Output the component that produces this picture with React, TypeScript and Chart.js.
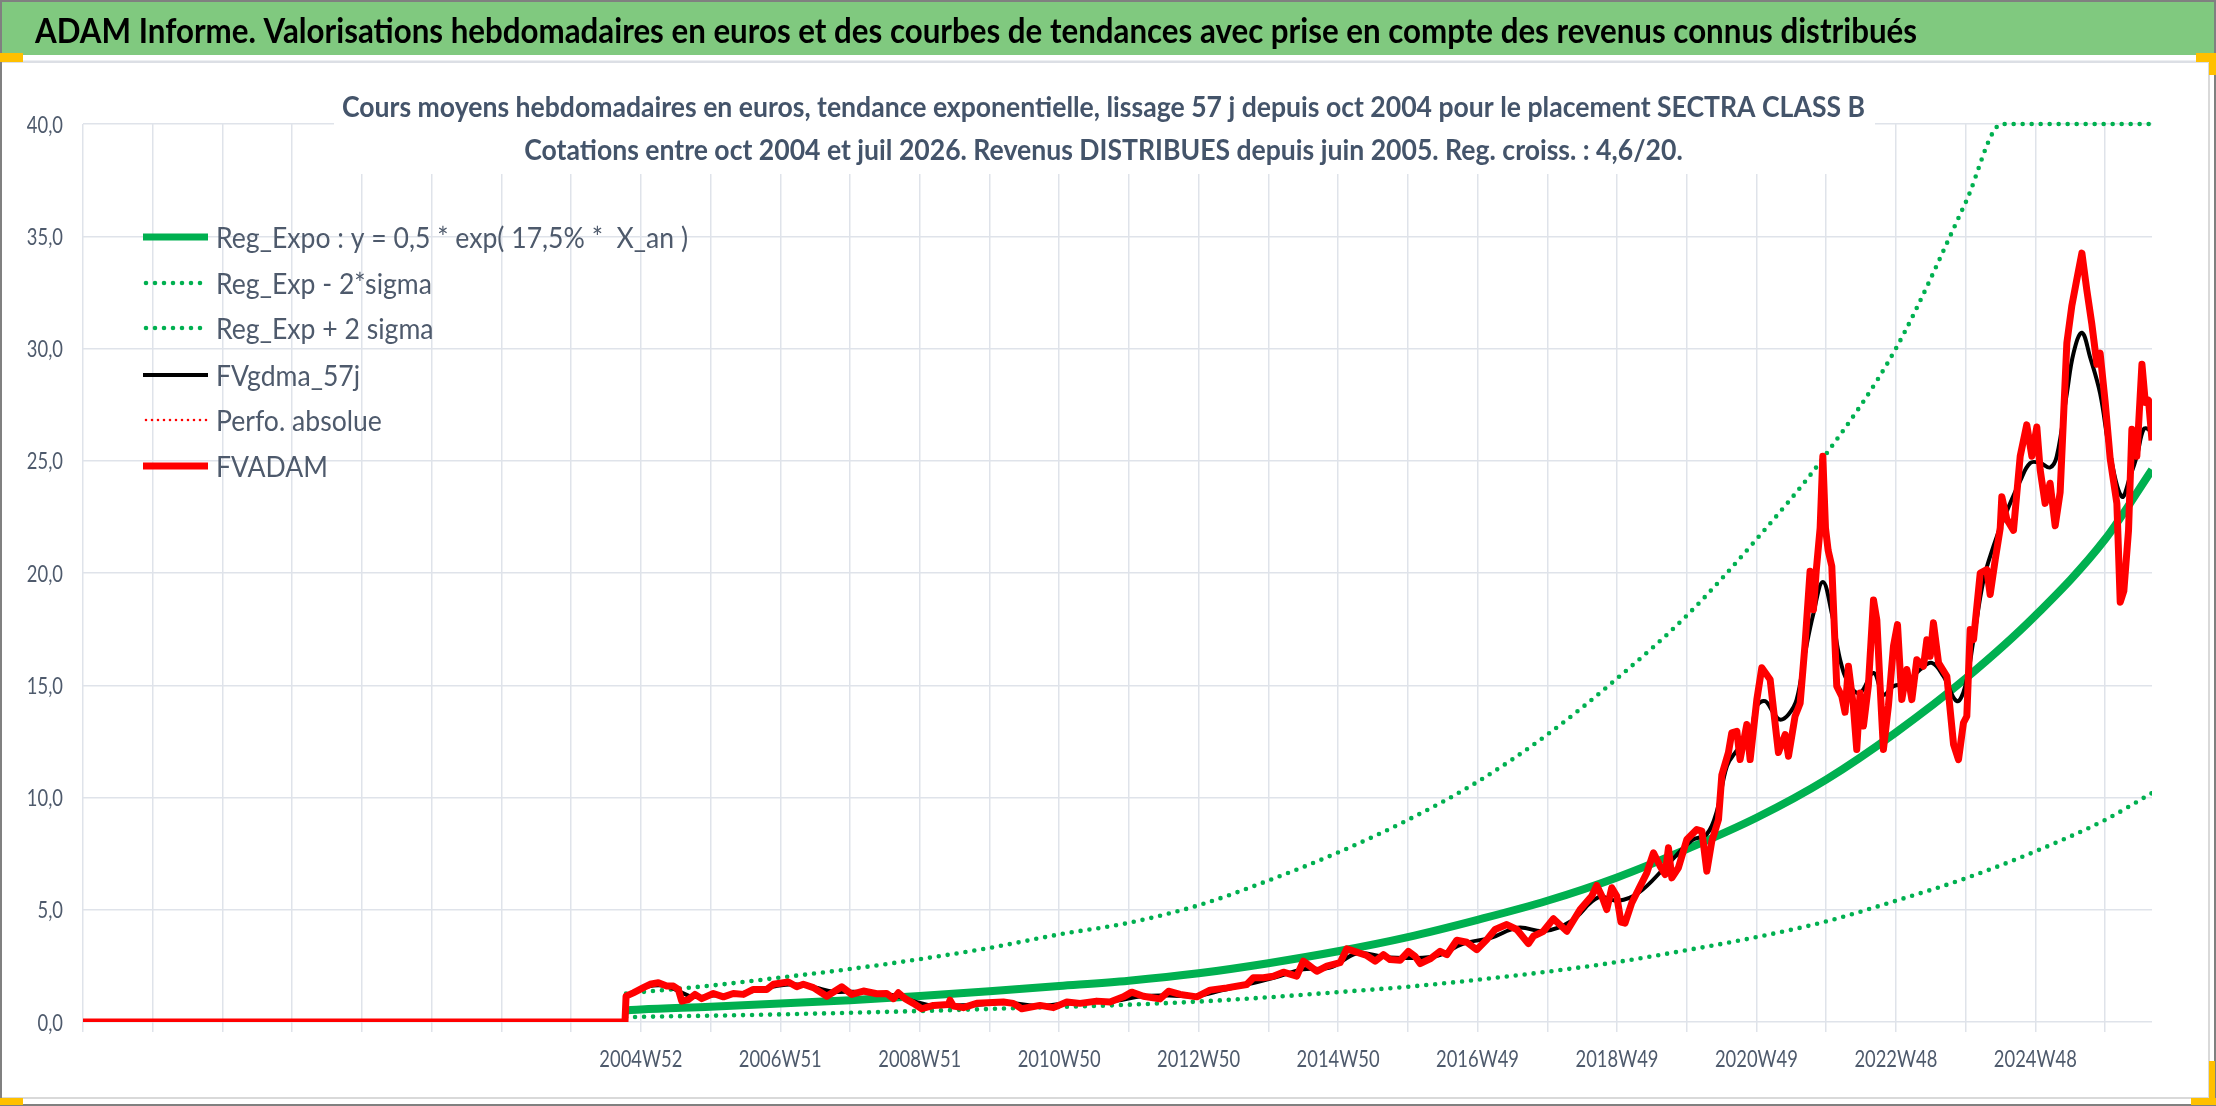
import React, { useEffect, useRef } from "react";
import { Chart, registerables } from "chart.js";

Chart.register(...registerables);

const PAGE_W = 2216;
const PAGE_H = 1106;

const titleText =
  "ADAM Informe. Valorisations hebdomadaires en euros et des courbes de tendances avec prise en compte des revenus connus distribués";
const subtitleLines = [
  "Cours moyens hebdomadaires en euros, tendance exponentielle, lissage 57 j depuis oct 2004 pour le placement SECTRA CLASS B",
  "Cotations entre oct 2004 et juil 2026. Revenus DISTRIBUES depuis juin 2005. Reg. croiss. : 4,6/20.",
];

// x axis: week index since the first gridline; one gridline every 52 weeks
const gridWeeks = [
  0, 52, 104, 156, 208, 260, 312, 364, 416, 468, 520, 572, 624, 676, 728, 780,
  832, 884, 936, 988, 1040, 1092, 1144, 1196, 1248, 1300, 1352, 1404, 1456, 1508,
];
const xTickLabels = [
  "", "", "", "", "", "", "", "", "2004W52", "", "2006W51", "", "2008W51", "",
  "2010W50", "", "2012W50", "", "2014W50", "", "2016W49", "", "2018W49", "",
  "2020W49", "", "2022W48", "", "2024W48", "",
];
const yTickLabels = ["0,0", "5,0", "10,0", "15,0", "20,0", "25,0", "30,0", "35,0", "40,0"];

const legendLabels = [
  "Reg_Expo : y = 0,5 * exp( 17,5% *  X_an )",
  "Reg_Exp - 2*sigma",
  "Reg_Exp + 2 sigma",
  "FVgdma_57j",
  "Perfo. absolue",
  "FVADAM",
];

// exponential regression and ±2 sigma bands
const regWeeks = [
  405, 416, 468, 520, 572, 624, 676, 728, 780, 832, 884, 936, 988, 1040, 1092,
  1144, 1196, 1248, 1300, 1352, 1404, 1456, 1508, 1543,
];
const regValues = [
  0.52, 0.56, 0.68, 0.82, 0.97, 1.16, 1.37, 1.6, 1.84, 2.17, 2.62, 3.15, 3.78,
  4.55, 5.4, 6.44, 7.7, 9.1, 10.8, 12.9, 15.3, 18.1, 21.5, 24.6,
];
const lowValues = [
  0.21, 0.23, 0.28, 0.34, 0.41, 0.49, 0.58, 0.67, 0.77, 0.91, 1.1, 1.33, 1.57,
  1.88, 2.24, 2.67, 3.2, 3.78, 4.48, 5.4, 6.4, 7.6, 9.0, 10.2,
];
const highWeeks = [
  405, 416, 468, 520, 572, 624, 676, 728, 780, 832, 884, 936, 988, 1040, 1092,
  1144, 1196, 1248, 1300, 1352, 1404, 1431, 1456, 1508, 1543,
];
const highValues = [
  1.27, 1.33, 1.62, 1.98, 2.36, 2.8, 3.3, 3.9, 4.42, 5.2, 6.3, 7.55, 9.0, 10.7,
  12.8, 15.3, 18.1, 21.5, 25.3, 30.0, 36.5, 40, 40, 40, 40,
];

// FVADAM weekly valuation
const adamWeeks = [
  0, 404.2, 405, 410.4, 417.9, 422.9, 429.1, 435.3, 440.3, 444, 446.5, 451.5,
  456.4, 461.4, 470.1, 477.6, 485, 492.5, 499.9, 509.9, 514.9, 526, 532.3,
  537.2, 544.7, 554.7, 565.9, 573.3, 582, 592, 599.4, 604.4, 608.1, 613.1,
  619.3, 625.5, 634.2, 645.4, 646.6, 649.1, 656.5, 666.5, 686.4, 693.8, 700.1,
  713.7, 723.7, 733.7, 743.6, 756, 765.9,
  775.9, 782.1, 790.8, 803.2, 809.5, 818.2, 830.6, 840.5, 853,
  867.9, 872.8, 880.3, 887.7, 895.2, 905.2, 910.1, 920.1, 927.6, 937.5, 942.5,
  949.9, 957.4, 963.6, 969.8, 974.8, 982.2, 988.4, 993.4, 997.2, 1004.6,
  1012.1, 1017.1, 1024.5, 1032, 1039.4, 1046.9, 1053.1, 1061.8, 1069.3,
  1077.9, 1081.7, 1089.1, 1096.6, 1106.6, 1116.5, 1125.2, 1128.9, 1132.7,
  1136.4, 1140.1, 1143.8, 1147, 1150, 1155, 1161.3, 1166.3, 1171.2, 1176.2,
  1179.9, 1182.4, 1184.9, 1189.8, 1196.1, 1203.5, 1207.3, 1211, 1214.7,
  1219.7, 1222.2, 1227.1, 1229.6, 1233.4, 1235.8, 1240.8, 1243.3, 1248.3,
  1252, 1258.2, 1264.4, 1269.4, 1271.9, 1276.8, 1280.6, 1284.3, 1288, 1290.5,
  1292.6, 1295.5, 1297.5, 1299.5, 1301.5, 1304.2, 1307.9, 1311.7, 1314.1,
  1316.6, 1320.3, 1322.8, 1325.3, 1327.8, 1331.5, 1335.3, 1337.8, 1340.2,
  1342.7, 1346.4, 1350.2, 1353.2, 1356.4, 1360.2, 1363.9, 1367.6, 1372.6,
  1375.1, 1377.6, 1380, 1383.8, 1390, 1395, 1398.7, 1402.4, 1404.9, 1407.4,
  1409.9, 1414.9, 1419.8, 1422.3, 1426.1, 1429.8, 1431, 1434.7, 1439.7,
  1444.7, 1449.6, 1453.4, 1457.1, 1459.6, 1463.3, 1467, 1470.8, 1474.5,
  1479.5, 1483.2, 1487, 1490.7, 1494.4, 1498.1, 1501.9, 1504.3, 1508.1,
  1511.8, 1516.8, 1519.3, 1522, 1525.5, 1528, 1531.7, 1535.5, 1538, 1540.4,
  1543,
];
const adamValues = [
  0, 0, 1.15, 1.3, 1.53, 1.68, 1.75, 1.6, 1.6, 1.45, 0.93, 1.0, 1.23, 1.04,
  1.27, 1.12, 1.27, 1.23, 1.45, 1.45, 1.68, 1.78, 1.57, 1.68, 1.53, 1.15,
  1.57, 1.23, 1.38, 1.26, 1.27, 1.04, 1.3, 1.04, 0.83, 0.59, 0.74, 0.78, 0.97,
  0.71, 0.64, 0.83, 0.89, 0.83, 0.59, 0.74, 0.64, 0.89, 0.83, 0.93, 0.89,
  1.12, 1.33, 1.15, 1.03, 1.37, 1.23, 1.12, 1.42, 1.52, 1.67, 1.97,
  1.97, 2.04, 2.22, 2.04, 2.71, 2.26, 2.49, 2.64, 3.26, 3.11, 2.96, 2.71, 3.0,
  2.78, 2.75, 3.15, 2.93, 2.6, 2.81, 3.15, 3.0, 3.64, 3.55, 3.22, 3.67, 4.12,
  4.34, 4.12, 3.49, 3.82, 4.04, 4.6, 4.04, 5.01, 5.61, 6.08, 5.61, 5.01, 5.98,
  5.61, 4.45, 4.4, 5.3, 6.05, 6.65, 7.54, 6.94, 6.57, 7.76, 6.42, 6.87, 8.13,
  8.57, 8.5, 6.72, 8.05, 9.02, 11.0, 12.0, 12.88, 12.95, 11.69, 13.25, 11.69,
  14.36, 15.78, 15.26, 12.0, 12.8, 11.84, 13.62, 14.2, 16.87, 20.08, 18.36,
  20.1, 22.0, 25.2, 22.0, 21.0, 20.3, 14.96, 14.5, 13.8, 15.85, 14.07, 12.14,
  14.66, 13.18, 15.0, 18.8, 17.9, 15.0, 12.14, 14.07, 16.74, 17.7, 14.36,
  15.7, 14.36, 16.14, 15.85, 17.03, 16.29, 17.78, 16.0, 15.4, 12.37, 11.69,
  13.33, 13.62, 17.48, 17.03, 20.0, 20.15, 19.04, 20.6, 22.0, 23.4, 22.4,
  21.9, 25.2, 26.6, 25.2, 26.5, 24.6, 23.1, 24.0, 22.1, 23.6, 30.25, 31.9,
  33.1, 34.25, 32.6, 31.1, 29.3, 29.8, 27.6, 25.1, 23.1, 18.7, 19.2, 21.9,
  26.4, 25.2, 29.3, 27.6, 27.7, 25.9,
];

// FVgdma_57j smoothed valuation
const smoothWeeks = [
  405, 415, 425, 435, 445, 455, 470, 485, 500, 515, 530, 545, 560, 575, 590,
  605, 620, 635, 650, 670, 690, 710, 730, 750, 770, 790, 810, 830, 850, 870,
  890, 910, 930, 950, 970, 990, 1010, 1030, 1050, 1070, 1090, 1110, 1130,
  1145, 1160, 1180, 1200, 1211, 1218.5, 1226, 1233.4, 1243.3, 1248.3, 1254.5,
  1260.7, 1265.6, 1271.9, 1278, 1284.3, 1290.5, 1297.5, 1304.2, 1310.4,
  1317.8, 1325.3, 1335.3, 1342.7, 1350.2, 1360.2, 1370.1, 1378.8, 1387.5,
  1397.5, 1403.7, 1409.9, 1417.4, 1424.8, 1432.3, 1444.7, 1452.2, 1459.6,
  1467, 1472, 1479.5, 1484.5, 1490.7, 1496.9, 1504.3, 1511.8, 1520.5, 1526.7,
  1531.7, 1536.7, 1540.4, 1543,
];
const smoothValues = [
  1.15, 1.45, 1.62, 1.6, 1.35, 1.12, 1.18, 1.22, 1.38, 1.58, 1.68, 1.55, 1.35,
  1.35, 1.3, 1.18, 0.92, 0.72, 0.74, 0.78, 0.86, 0.72, 0.8, 0.88, 0.95, 1.15,
  1.18, 1.15, 1.42, 1.7, 2.0, 2.35, 2.42, 3.05, 2.9, 2.85, 2.95, 3.5, 3.75,
  4.2, 4.05, 4.5, 5.55, 5.4, 5.75, 6.9, 8.1, 8.37, 9.4, 11.4, 12.1, 12.88,
  14.07, 14.29, 13.77, 13.47, 13.7, 14.36, 16.44, 18.2, 19.6, 18.2, 16.14,
  14.96, 14.66, 15.55, 14.59, 14.96, 15.1, 15.7, 16.0, 15.4, 14.29, 14.96,
  17.03, 19.7, 21.2, 22.4, 24.1, 24.9, 24.9, 24.7, 25.2, 28.0, 29.8, 30.7,
  29.6, 28.0, 25.3, 23.4, 24.3, 25.2, 26.4, 26.4, 26.1,
];

const GREEN = "#00b050";
const RED = "#ff0000";
const GRID = "#dfe3ea";
const TEXT = "#4e5a6c";

function pts(xs: number[], ys: number[]) {
  return xs.map((x, i) => ({ x, y: ys[i] }));
}

function drawText(
  ctx: CanvasRenderingContext2D,
  text: string,
  x: number,
  y: number,
  font: string,
  color: string,
  align: CanvasTextAlign,
  sx: number
) {
  ctx.save();
  ctx.font = font;
  ctx.fillStyle = color;
  ctx.textAlign = align;
  ctx.textBaseline = "alphabetic";
  ctx.translate(x, y);
  ctx.scale(sx, 1);
  ctx.fillText(text, 0, 0);
  ctx.restore();
}

function textWidth(ctx: CanvasRenderingContext2D, text: string, font: string) {
  ctx.save();
  ctx.font = font;
  const w = ctx.measureText(text).width;
  ctx.restore();
  return w;
}

const FONT_TITLE = "bold 35px Lato";
const FONT_SUB = "bold 29px Lato";
const FONT_TICK = "24px Lato";
const FONT_LEGEND = "29px Lato";

const decorPlugin = {
  id: "decor",
  beforeDraw(chart: any) {
    const ctx: CanvasRenderingContext2D = chart.ctx;
    ctx.save();
    ctx.fillStyle = "#ffffff";
    ctx.fillRect(0, 0, PAGE_W, PAGE_H);
    // green banner
    ctx.fillStyle = "#80c97f";
    ctx.fillRect(0, 2, PAGE_W, 53);
    // separator
    ctx.fillStyle = "#dcdfe5";
    ctx.fillRect(0, 60.5, PAGE_W, 2.5);
    // inner frame of the chart
    ctx.strokeStyle = "#d9d9d9";
    ctx.lineWidth = 2;
    ctx.beginPath();
    ctx.moveTo(2209, 63);
    ctx.lineTo(2209, 1098);
    ctx.moveTo(0, 1098);
    ctx.lineTo(2209, 1098);
    ctx.stroke();
    // outer frame
    ctx.strokeStyle = "#808080";
    ctx.lineWidth = 2;
    ctx.strokeRect(1, 1, PAGE_W - 2, PAGE_H - 2);
    // selection handles
    ctx.fillStyle = "#ffc000";
    ctx.fillRect(0, 53, 23, 9);
    ctx.fillRect(0, 1098, 23, 7);
    ctx.fillRect(2196, 53, 20, 9);
    ctx.fillRect(2209, 53, 7, 22);
    ctx.fillRect(2209, 1061, 6, 44);
    ctx.fillRect(2191, 1098, 25, 7);
    // banner title
    const tw = textWidth(ctx, titleText, FONT_TITLE);
    drawText(ctx, titleText, 35, 43, FONT_TITLE, "#000000", "left", 1882 / tw);
    ctx.restore();
  },
  beforeDatasetsDraw(chart: any) {
    const ctx: CanvasRenderingContext2D = chart.ctx;
    ctx.save();
    ctx.fillStyle = "#ffffff";
    ctx.fillRect(334, 66, 1541, 108);
    const sw = textWidth(ctx, subtitleLines[0], FONT_SUB);
    const sx = 1523 / sw;
    drawText(ctx, subtitleLines[0], 1103.5, 117, FONT_SUB, "#44546a", "center", sx);
    drawText(ctx, subtitleLines[1], 1103.5, 160, FONT_SUB, "#44546a", "center", sx);
    ctx.restore();
  },
  afterDraw(chart: any) {
    const ctx: CanvasRenderingContext2D = chart.ctx;
    const area = chart.chartArea;
    const xs = chart.scales.x;
    const ys = chart.scales.y;
    ctx.save();
    const tsx = 83 / textWidth(ctx, "2022W48", FONT_TICK);
    xs.ticks.forEach((t: any, i: number) => {
      const lbl = xTickLabels[i];
      if (!lbl) return;
      const px = xs.getPixelForValue(t.value);
      drawText(ctx, lbl, px, area.bottom + 44.5, FONT_TICK, TEXT, "center", tsx);
    });
    ys.ticks.forEach((t: any, i: number) => {
      const lbl = yTickLabels[i];
      if (!lbl) return;
      const py = ys.getPixelForValue(t.value);
      drawText(ctx, lbl, area.left - 20, py + 8.7, FONT_TICK, TEXT, "right", tsx);
    });
    // legend
    const lsx = 472 / textWidth(ctx, legendLabels[0], FONT_LEGEND);
    const rowY = [237, 283, 328, 375, 420, 466];
    chart.data.datasets.forEach((ds: any, i: number) => {
      const y = rowY[i];
      ctx.save();
      ctx.strokeStyle = ds.borderColor;
      ctx.lineWidth = ds.legendWidth || ds.borderWidth;
      ctx.lineCap = ds.borderCapStyle || "butt";
      ctx.setLineDash(ds.borderDash || []);
      ctx.beginPath();
      ctx.moveTo(ds.borderDash && ds.borderDash.length ? 146 : 143, y);
      ctx.lineTo(208, y);
      ctx.stroke();
      ctx.restore();
      drawText(ctx, ds.label, 216, y + 10.5, FONT_LEGEND, TEXT, "left", lsx);
    });
    ctx.restore();
  },
};

export default function App() {
  const canvasRef = useRef<HTMLCanvasElement | null>(null);

  useEffect(() => {
    document.body.style.margin = "0";
    const canvas = canvasRef.current;
    if (!canvas) return;
    const chart = new Chart(canvas, {
      type: "line",
      data: {
        datasets: [
          {
            label: legendLabels[0],
            data: pts(regWeeks, regValues),
            borderColor: GREEN,
            borderWidth: 8,
            legendWidth: 7,
            cubicInterpolationMode: "monotone",
            pointRadius: 0,
            fill: false,
            order: 5,
          } as any,
          {
            label: legendLabels[1],
            data: pts(regWeeks, lowValues),
            borderColor: GREEN,
            borderWidth: 4.6,
            borderDash: [0, 9],
            borderCapStyle: "round",
            cubicInterpolationMode: "monotone",
            pointRadius: 0,
            fill: false,
            order: 4,
          } as any,
          {
            label: legendLabels[2],
            data: pts(highWeeks, highValues),
            borderColor: GREEN,
            borderWidth: 4.6,
            borderDash: [0, 9],
            borderCapStyle: "round",
            cubicInterpolationMode: "monotone",
            pointRadius: 0,
            fill: false,
            clip: 6,
            order: 3,
          } as any,
          {
            label: legendLabels[3],
            data: pts(smoothWeeks, smoothValues),
            borderColor: "#000000",
            borderWidth: 4,
            tension: 0.4,
            pointRadius: 0,
            fill: false,
            order: 2,
          } as any,
          {
            label: legendLabels[4],
            data: [],
            borderColor: RED,
            borderWidth: 2.6,
            borderDash: [0, 6],
            borderCapStyle: "round",
            pointRadius: 0,
            fill: false,
            order: 1,
          } as any,
          {
            label: legendLabels[5],
            data: pts(adamWeeks, adamValues),
            borderColor: RED,
            borderWidth: 7,
            borderJoinStyle: "round",
            tension: 0,
            pointRadius: 0,
            fill: false,
            order: 0,
          } as any,
        ],
      },
      options: {
        responsive: true,
        maintainAspectRatio: false,
        animation: false,
        devicePixelRatio: 1,
        events: [],
        layout: { padding: { top: 124, right: 64, bottom: 0, left: 0 } },
        plugins: {
          legend: { display: false },
          title: { display: false },
          tooltip: { enabled: false },
        },
        scales: {
          x: {
            type: "linear",
            min: 0,
            max: 1543,
            afterBuildTicks: (scale: any) => {
              scale.ticks = gridWeeks.map((v) => ({ value: v }));
            },
            afterFit: (scale: any) => {
              scale.height = 84;
            },
            ticks: { display: false },
            grid: { color: GRID, lineWidth: 1.5, tickLength: 10, drawTicks: true },
            border: { display: false },
          },
          y: {
            type: "linear",
            min: 0,
            max: 40,
            ticks: { stepSize: 5, display: false },
            afterFit: (scale: any) => {
              scale.width = 83;
            },
            grid: { color: GRID, lineWidth: 1.5, drawTicks: false },
            border: { display: false },
          },
        },
      } as any,
      plugins: [decorPlugin],
    });
    return () => chart.destroy();
  }, []);

  return (
    <div style={{ position: "relative", width: PAGE_W, height: PAGE_H }}>
      <canvas ref={canvasRef} />
    </div>
  );
}
